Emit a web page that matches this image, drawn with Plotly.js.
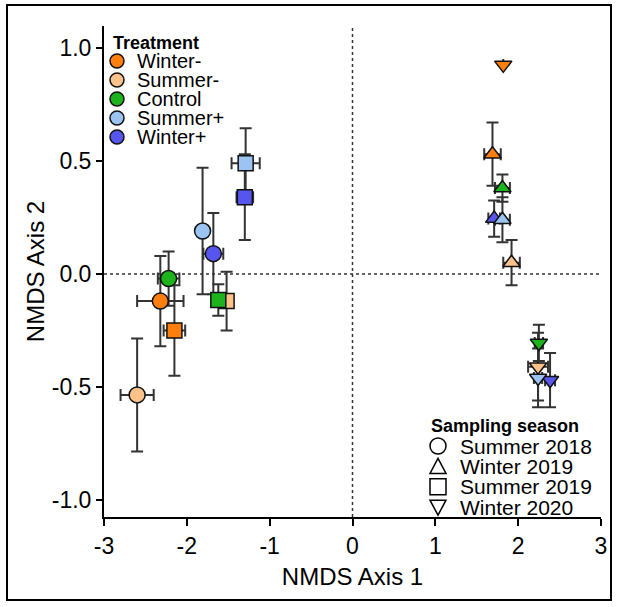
<!DOCTYPE html>
<html>
<head>
<meta charset="utf-8">
<script src="https://cdn.plot.ly/plotly-3.0.1.min.js"></script>
<style>
  html, body { margin: 0; padding: 0; background: #fff; }
  #chart { width: 622px; height: 607px; }
</style>
</head>
<body>
<div id="chart"></div>
<script>
// ---- Data ----
const treatments = ['Winter-', 'Summer-', 'Control', 'Summer+', 'Winter+'];
const treatmentColors = ['#FF7F0E', '#FDC28A', '#1DB31D', '#9CC4F2', '#5656EE'];
const seasons = ['Summer 2018', 'Winter 2019', 'Summer 2019', 'Winter 2020'];
const seasonSymbols = ['circle', 'triangle-up', 'square', 'triangle-down'];

// values ordered by season: Summer 2018, Winter 2019, Summer 2019, Winter 2020
const winterMinusX  = [-2.32, 1.69, -2.15, 1.82];
const winterMinusY  = [-0.12, 0.53, -0.25, 0.925];
const winterMinusEX = [0.28, 0.10, 0.13, 0];
const winterMinusEY = [0.20, 0.14, 0.20, 0];

const summerMinusX  = [-2.60, 1.92, -1.52, 2.24];
const summerMinusY  = [-0.535, 0.05, -0.12, -0.41];
const summerMinusEX = [0.20, 0.10, 0.06, 0.12];
const summerMinusEY = [0.25, 0.10, 0.13, 0.15];

const controlX  = [-2.22, 1.81, -1.62, 2.25];
const controlY  = [-0.02, 0.38, -0.115, -0.305];
const controlEX = [0.13, 0.09, 0.07, 0.05];
const controlEY = [0.12, 0.06, 0.07, 0.08];

const summerPlusX  = [-1.81, 1.81, -1.29, 2.24];
const summerPlusY  = [0.19, 0.24, 0.49, -0.46];
const summerPlusEX = [0.05, 0.09, 0.17, 0.05];
const summerPlusEY = [0.28, 0.10, 0.155, 0.13];

const winterPlusX  = [-1.68, 1.71, -1.30, 2.385];
const winterPlusY  = [0.09, 0.245, 0.34, -0.47];
const winterPlusEX = [0.12, 0.07, 0.10, 0.06];
const winterPlusEY = [0.18, 0.08, 0.19, 0.12];

const xTicks = [-3, -2, -1, 0, 1, 2, 3];
const yTicks = [-1.0, -0.5, 0.0, 0.5, 1.0];
const yTickText = ['-1.0', '-0.5', '0.0', '0.5', '1.0'];

// ---- Build traces ----
const series = [
  {t: 4, x: winterPlusX,  y: winterPlusY,  ex: winterPlusEX,  ey: winterPlusEY},
  {t: 0, x: winterMinusX, y: winterMinusY, ex: winterMinusEX, ey: winterMinusEY},
  {t: 1, x: summerMinusX, y: summerMinusY, ex: summerMinusEX, ey: summerMinusEY},
  {t: 2, x: controlX,     y: controlY,     ex: controlEX,     ey: controlEY},
  {t: 3, x: summerPlusX,  y: summerPlusY,  ex: summerPlusEX,  ey: summerPlusEY}
];

const barColor = '#333333';
const traces = [];
// error bars first (behind all markers)
series.forEach(s => {
  traces.push({
    type: 'scatter', mode: 'markers', x: s.x, y: s.y,
    marker: {size: 1, color: 'rgba(0,0,0,0)', opacity: 1},
    error_x: {type: 'data', array: s.ex, visible: true, color: barColor, thickness: 2, width: 6},
    error_y: {type: 'data', array: s.ey, visible: true, color: barColor, thickness: 2, width: 6},
    showlegend: false, hoverinfo: 'skip', cliponaxis: false
  });
});
// markers
series.forEach(s => {
  traces.push({
    type: 'scatter', mode: 'markers', x: s.x, y: s.y,
    name: treatments[s.t],
    marker: {
      color: treatmentColors[s.t],
      symbol: seasonSymbols,
      size: seasonSymbols.map(sym => sym === 'square' ? 15 : (sym === 'circle' ? 16 : 15)),
      opacity: 1,
      line: {color: '#111', width: 1.5}
    },
    opacity: 1,
    showlegend: false, cliponaxis: false
  });
});

// ---- Custom legends (paper coords, computed from pixel positions) ----
const plotL = 104, plotR = 601, plotT = 26, plotB = 517;
const px = v => (v - plotL) / (plotR - plotL);
const py = v => (plotB - v) / (plotB - plotT);

const shapes = [];
const annotations = [];
const fontFam = 'Liberation Sans, Arial, sans-serif';

// Treatment legend
annotations.push({xref: 'paper', yref: 'paper', x: px(111), y: py(43), xanchor: 'left', yanchor: 'middle',
  text: '<b>Treatment</b>', showarrow: false, font: {family: fontFam, size: 18, color: '#000'}});
treatments.forEach((name, i) => {
  const cy = 61 + i * 19;
  shapes.push({type: 'circle', xref: 'paper', yref: 'paper', xsizemode: 'pixel', ysizemode: 'pixel',
    xanchor: px(117), yanchor: py(cy), x0: -7, x1: 7, y0: -7, y1: 7,
    fillcolor: treatmentColors[i], line: {color: '#111', width: 1.5}});
  annotations.push({xref: 'paper', yref: 'paper', x: px(135), y: py(cy), xanchor: 'left', yanchor: 'middle',
    text: name, showarrow: false, font: {family: fontFam, size: 20, color: '#000'}});
});

// Sampling season legend
annotations.push({xref: 'paper', yref: 'paper', x: px(429), y: py(426), xanchor: 'left', yanchor: 'middle',
  text: '<b>Sampling season</b>', showarrow: false, font: {family: fontFam, size: 18, color: '#000'}});
const symPaths = {
  'triangle-up': 'M -8 -7 L 8 -7 L 0 8 Z',
  'triangle-down': 'M -8 7 L 8 7 L 0 -8 Z'
};
seasons.forEach((name, i) => {
  const cy = 446 + i * 20.4;
  const sym = seasonSymbols[i];
  const base = {xref: 'paper', yref: 'paper', xsizemode: 'pixel', ysizemode: 'pixel',
    xanchor: px(438), yanchor: py(cy), line: {color: '#000', width: 1.5}, fillcolor: 'rgba(0,0,0,0)'};
  if (sym === 'circle') shapes.push(Object.assign({type: 'circle', x0: -8, x1: 8, y0: -8, y1: 8}, base));
  else if (sym === 'square') shapes.push(Object.assign({type: 'rect', x0: -8, x1: 8, y0: -8, y1: 8}, base));
  else shapes.push(Object.assign({type: 'path', path: symPaths[sym]}, base));
  annotations.push({xref: 'paper', yref: 'paper', x: px(458), y: py(cy), xanchor: 'left', yanchor: 'middle',
    text: name, showarrow: false, font: {family: fontFam, size: 21, color: '#000'}});
});

// zero lines (dotted)
shapes.push({type: 'line', xref: 'x', yref: 'paper', x0: 0, x1: 0, y0: 0, y1: 1,
  line: {color: '#333', width: 1.5, dash: 'dot'}, layer: 'below'});
shapes.push({type: 'line', xref: 'paper', yref: 'y', x0: 0, x1: 1, y0: 0, y1: 0,
  line: {color: '#333', width: 1.5, dash: 'dot'}, layer: 'below'});

// outer frame
shapes.push({type: 'rect', xref: 'paper', yref: 'paper', x0: px(7), x1: px(611), y0: py(600), y1: py(5),
  line: {color: '#000', width: 2}, fillcolor: 'rgba(0,0,0,0)'});

const layout = {
  width: 622, height: 607,
  margin: {l: plotL, r: 622 - plotR, t: plotT, b: 607 - plotB},
  paper_bgcolor: '#fff', plot_bgcolor: '#fff',
  showlegend: false,
  xaxis: {
    range: [-3, 3], tickvals: xTicks, ticktext: xTicks.map(String),
    showgrid: false, zeroline: false, showline: true, linecolor: '#000', linewidth: 2,
    ticks: 'outside', ticklen: 7, tickwidth: 2, tickcolor: '#000',
    tickfont: {family: fontFam, size: 23, color: '#000'},
    title: {text: 'NMDS Axis 1', font: {family: fontFam, size: 24, color: '#000'}, standoff: 11},
    automargin: false
  },
  yaxis: {
    range: [-1.075, 1.097], tickvals: yTicks, ticktext: yTickText,
    showgrid: false, zeroline: false, showline: true, linecolor: '#000', linewidth: 2,
    ticks: 'outside', ticklen: 6, tickwidth: 2, tickcolor: '#000',
    tickfont: {family: fontFam, size: 23, color: '#000'},
    title: {text: 'NMDS Axis 2', font: {family: fontFam, size: 24, color: '#000'}, standoff: 0},
    automargin: false
  },
  shapes: shapes,
  annotations: annotations
};

Plotly.newPlot('chart', traces, layout, {staticPlot: true, displayModeBar: false});
</script>
</body>
</html>
